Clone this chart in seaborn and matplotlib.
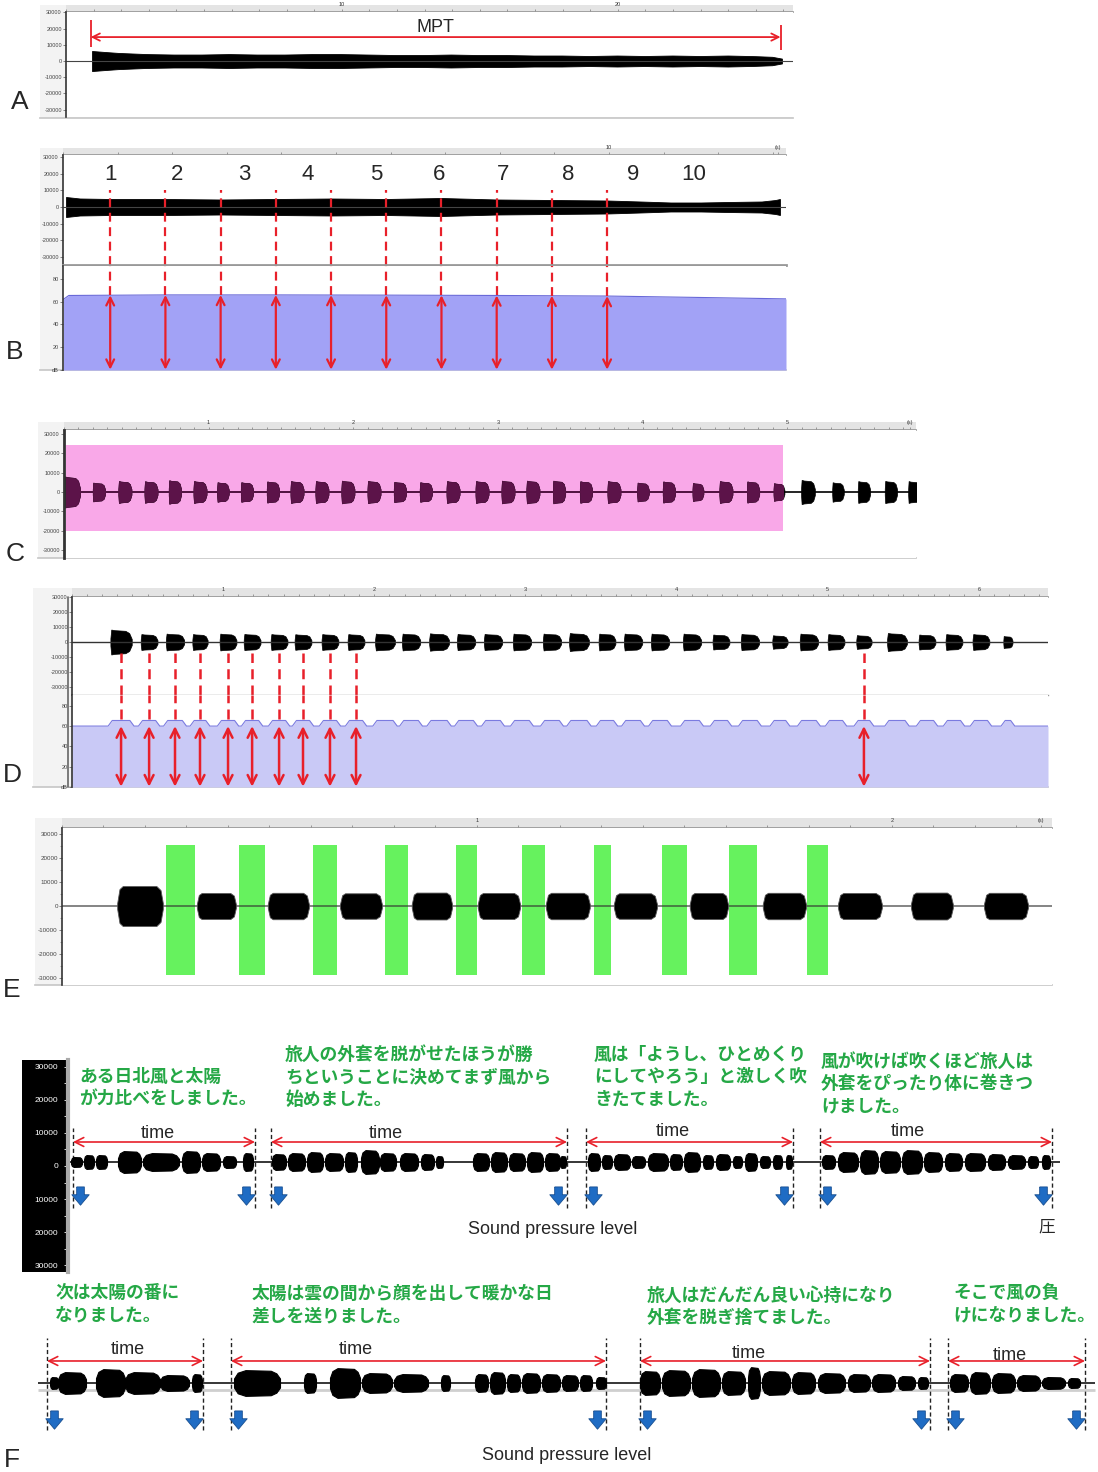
import numpy as np
import matplotlib
matplotlib.use("Agg")
import matplotlib.pyplot as plt
import seaborn as sns
from matplotlib.patches import Rectangle
from matplotlib.lines import Line2D

# ---------------- data ----------------

# A: sustained vowel, amplitude envelope (time in s)
a_time = [1.05, 1.5, 2, 3, 4, 5, 6, 7, 8, 9, 10, 11, 12, 13, 14, 15, 16, 17, 18, 19, 20,
          21, 22, 23, 24, 25, 25.6, 25.95]
a_env = [6200, 5600, 5000, 4300, 4000, 4000, 4300, 4000, 4000, 4300, 4300, 4000, 3700, 3700,
         4000, 3700, 3700, 3400, 3400, 3100, 3400, 3100, 3400, 3100, 3400, 3000, 2600, 1500]
a_mpt = [1.0, 25.9]

# B: sustained vowel + intensity (dB), measured once per second
b_time = [0.2, 0.45, 1, 2, 3, 4, 5, 6, 7, 8, 9, 10, 10.6, 11.15, 11.7, 12.2, 12.8, 13.05, 13.13]
b_env = [6000, 5100, 4800, 4800, 4500, 4800, 5100, 4800, 5400, 4500, 4200, 3900, 3300, 2700,
         2700, 3000, 3300, 4200, 4800]
b_db_time = [0.15, 0.25, 2, 4, 6, 8, 10, 12, 13.24]
b_db = [62, 65.5, 66, 66, 65.8, 65.5, 65, 63.5, 62.5]
b_marks = [1, 2, 3, 4, 5, 6, 7, 8, 9, 10]
b_label_time = [1.0, 2.21, 3.42, 4.58, 5.82, 6.96, 8.12, 9.29, 10.47, 11.56]
b_labels = ["1", "2", "3", "4", "5", "6", "7", "8", "9", "10"]

# C: syllable repetition, burst centres / durations (s) and amplitudes
c_time = [0.069, 0.255, 0.434, 0.614, 0.779, 0.952, 1.110, 1.276, 1.455, 1.621, 1.793, 1.972,
          2.152, 2.331, 2.510, 2.697, 2.897, 3.076, 3.248, 3.428, 3.614, 3.807, 4.007, 4.186,
          4.386, 4.579, 4.766, 4.945, 5.145, 5.352, 5.531, 5.717, 5.876]
c_width = [0.11, 0.085, 0.09, 0.09, 0.085, 0.09, 0.08, 0.085, 0.085, 0.09, 0.09, 0.09, 0.09,
           0.085, 0.085, 0.09, 0.09, 0.09, 0.09, 0.085, 0.085, 0.09, 0.08, 0.085, 0.075, 0.09,
           0.085, 0.075, 0.095, 0.08, 0.085, 0.085, 0.08]
c_amp = [8000, 4800, 5600, 5500, 6000, 5600, 5000, 5000, 5400, 5600, 5600, 5800, 5700, 5200,
         5000, 5600, 5600, 5800, 5800, 5800, 5500, 5600, 4800, 5400, 4600, 5600, 5400, 4500,
         6200, 5000, 5600, 5700, 5600]
c_sel_time = [0.03, 4.97]
c_sel_amp = [-20000, 24000]

# D: syllable repetition + intensity
d_time = [0.374, 0.558, 0.728, 0.892, 1.076, 1.234, 1.411, 1.568, 1.745, 1.916, 2.106, 2.277,
          2.461, 2.638, 2.815, 3.005, 3.202, 3.379, 3.563, 3.734, 3.911, 4.121, 4.311, 4.501,
          4.698, 4.888, 5.066, 5.249, 5.466, 5.663, 5.840, 6.017, 6.194]
d_width = [0.14, 0.11, 0.12, 0.10, 0.11, 0.11, 0.11, 0.11, 0.11, 0.11, 0.13, 0.12, 0.13, 0.12,
           0.12, 0.12, 0.12, 0.13, 0.11, 0.12, 0.12, 0.12, 0.11, 0.12, 0.10, 0.12, 0.11, 0.10,
           0.13, 0.11, 0.11, 0.11, 0.06]
d_amp = [8300, 5300, 5600, 5300, 5600, 5400, 5300, 5200, 5300, 5300, 5600, 5600, 5800, 5400,
         5400, 5600, 5600, 6000, 5600, 5600, 5600, 5600, 5000, 5400, 4500, 5600, 5300, 4600,
         6000, 5000, 5300, 5300, 4000]
d_marked = [0, 1, 2, 3, 4, 5, 6, 7, 8, 9, 27]
d_db_floor = 60.0
d_db_peak = 65.5

# E: syllables with pauses (green)
e_start = [0.133, 0.325, 0.496, 0.670, 0.843, 1.002, 1.166, 1.330, 1.513, 1.689, 1.870, 2.046, 2.222]
e_end = [0.243, 0.419, 0.595, 0.771, 0.940, 1.104, 1.272, 1.434, 1.605, 1.793, 1.976, 2.147, 2.328]
e_amp = [8300, 5400, 5500, 5300, 5600, 5400, 5500, 5300, 5400, 5500, 5400, 5600, 5500]
g_start = [0.251, 0.427, 0.605, 0.778, 0.949, 1.108, 1.282, 1.446, 1.607, 1.795]
g_end = [0.320, 0.489, 0.663, 0.834, 1.000, 1.164, 1.323, 1.506, 1.675, 1.846]
g_amp = [-28750, 25400]

# F: reading passage, sound clusters (start s, end s, amplitude) per phrase
f1_bursts = [
    [(0.71, 0.82, 1500), (0.84, 0.94, 2100), (0.96, 1.07, 2100), (1.18, 1.41, 3300),
     (1.43, 1.79, 2700), (1.82, 2.00, 3300), (2.02, 2.20, 2700), (2.23, 2.36, 1800),
     (2.43, 2.53, 2700)],
    [(2.72, 2.86, 2400), (2.88, 3.05, 2700), (3.07, 3.23, 3000), (3.25, 3.43, 2700),
     (3.45, 3.57, 3000), (3.61, 3.79, 3600), (3.80, 3.96, 2700), (4.00, 4.18, 2700),
     (4.21, 4.34, 2400), (4.36, 4.43, 1800), (4.73, 4.89, 2700), (4.91, 5.07, 3000),
     (5.09, 5.25, 2700), (5.27, 5.43, 3000), (5.45, 5.60, 2700), (5.60, 5.66, 1800)],
    [(5.88, 6.00, 2700), (6.02, 6.12, 2100), (6.14, 6.30, 2400), (6.32, 6.45, 1800),
     (6.48, 6.68, 2700), (6.70, 6.82, 2400), (6.84, 7.00, 3000), (7.03, 7.13, 2100),
     (7.16, 7.30, 2400), (7.33, 7.42, 1800), (7.45, 7.57, 2700), (7.60, 7.70, 1800),
     (7.73, 7.82, 2100), (7.86, 7.92, 2100)],
    [(8.22, 8.35, 2100), (8.38, 8.58, 3000), (8.60, 8.78, 3600), (8.80, 9.00, 3300),
     (9.02, 9.22, 3600), (9.24, 9.42, 3000), (9.45, 9.62, 2700), (9.65, 9.85, 2700),
     (9.88, 10.05, 2400), (10.08, 10.25, 2100), (10.28, 10.38, 1800), (10.42, 10.50, 2100)],
]
f2_bursts = [
    [(0.50, 0.58, 1800), (0.58, 0.86, 3300), (0.96, 1.25, 4200), (1.25, 1.60, 3300),
     (1.60, 1.89, 2400), (1.92, 2.02, 2700)],
    [(2.34, 2.80, 3900), (3.04, 3.16, 3000), (3.30, 3.60, 4500), (3.62, 3.92, 3000),
     (3.94, 4.28, 2700), (4.41, 4.50, 2400), (4.75, 4.88, 2700), (4.90, 5.05, 3300),
     (5.07, 5.20, 2700), (5.22, 5.40, 3000), (5.42, 5.60, 2700), (5.62, 5.78, 2400),
     (5.80, 5.92, 2400), (5.96, 6.06, 1800)],
    [(6.40, 6.60, 3600), (6.62, 6.90, 3900), (6.92, 7.20, 4200), (7.22, 7.45, 3600),
     (7.48, 7.60, 4800), (7.62, 7.90, 3600), (7.92, 8.15, 3300), (8.18, 8.45, 3000),
     (8.48, 8.70, 2700), (8.72, 8.95, 2700), (8.98, 9.15, 2100), (9.18, 9.28, 1800)],
    [(9.50, 9.68, 2700), (9.70, 9.90, 3300), (9.92, 10.15, 3000), (10.17, 10.40, 2400),
     (10.42, 10.65, 1800), (10.68, 10.80, 1500)],
]
f1_span = [(0.73, 2.55), (2.71, 5.67), (5.86, 7.93), (8.20, 10.52)]
f2_span = [(0.47, 2.03), (2.31, 6.06), (6.40, 9.30), (9.48, 10.85)]
f1_text = ["ある日北風と太陽\nが力比べをしました。",
           "旅人の外套を脱がせたほうが勝\nちということに決めてまず風から\n始めました。",
           "風は「ようし、ひとめくり\nにしてやろう」と激しく吹\nきたてました。",
           "風が吹けば吹くほど旅人は\n外套をぴったり体に巻きつ\nけました。"]
f2_text = ["次は太陽の番に\nなりました。",
           "太陽は雲の間から顔を出して暖かな日\n差しを送りました。",
           "旅人はだんだん良い心持になり\n外套を脱ぎ捨てました。",
           "そこで風の負\nけになりました。"]

amp_ticks = [30000, 20000, 10000, 0, -10000, -20000, -30000]
amp_labels = ["30000", "20000", "10000", "0", "-10000", "-20000", "-30000"]
db_ticks = [80, 60, 40, 20, 0]
db_labels = ["80", "60", "40", "20", "dB"]

# ---------------- figure ----------------

sns.set_theme(style="white")
plt.rcParams["font.family"] = ["Liberation Sans", "DejaVu Sans"]
JP = ["Noto Sans CJK JP", "DejaVu Sans"]
RED = "#e8202a"
GREEN_TXT = "#25a846"

W, H = 1098, 1472
fig = plt.figure(figsize=(W / 100, H / 100), dpi=100)


def px_axes(x0, y0, x1, y1, zorder=1):
    return fig.add_axes([x0 / W, 1 - y1 / H, (x1 - x0) / W, (y1 - y0) / H], zorder=zorder)


def px_text(x, y, s, **kw):
    fig.text(x / W, 1 - y / H, s, **kw)


def panel_bg(x0, y0, x1, y1):
    bg = px_axes(x0, y0, x1, y1, zorder=0)
    bg.set_facecolor("#f3f3f3")
    bg.set_xticks([])
    bg.set_yticks([])
    for s in bg.spines.values():
        s.set_visible(False)
    bg.spines["bottom"].set_visible(True)
    bg.spines["bottom"].set_color("#c8c8c8")


def ruler(x0, y0, x1, y1, xlim, major, labels, minor_step):
    r = px_axes(x0, y0, x1, y1, zorder=2)
    r.set_facecolor("#e4e4e4")
    r.set_xlim(xlim)
    r.set_ylim(0, 1)
    r.set_yticks([])
    r.set_xticks(major, labels)
    r.set_xticks(np.arange(0, xlim[1], minor_step), minor=True)
    r.tick_params(axis="x", which="both", bottom=True, direction="in", length=2.5,
                  width=0.5, color="#777", labelsize=4, labelcolor="#333", pad=-7)
    for s in r.spines.values():
        s.set_visible(False)
    r.spines["bottom"].set_visible(True)
    r.spines["bottom"].set_color("#999")
    return r


def wave_ax(x0, y0, x1, y1, xlim, ylim, ticks, labels, fs=4):
    ax = px_axes(x0, y0, x1, y1, zorder=2)
    ax.set_facecolor("white")
    ax.set_xlim(xlim)
    ax.set_ylim(ylim)
    ax.set_xticks([])
    ax.set_yticks(ticks, labels)
    ax.tick_params(axis="y", left=True, length=2, width=0.5, color="#555",
                   labelsize=fs, labelcolor="#444", pad=1)
    for s in ["top", "right", "bottom"]:
        ax.spines[s].set_visible(False)
    ax.spines["left"].set_color("#333")
    ax.spines["left"].set_linewidth(1.2)
    return ax


def burst(ax, c, w, a, shape_x, shape_y, **kw):
    xs = c + w * np.asarray(shape_x)
    ys = a * np.asarray(shape_y)
    return ax.fill_between(xs, -ys, ys, **kw)


D_SHAPE = ([-0.5, -0.46, -0.3, 0.2, 0.38, 0.5], [0.3, 1.0, 0.95, 0.9, 0.72, 0.25])
BOX_SHAPE = ([-0.5, -0.45, -0.38, 0.36, 0.45, 0.5], [0.15, 0.85, 1.0, 1.0, 0.8, 0.15])
F_SHAPE = ([-0.5, -0.42, -0.25, 0.3, 0.42, 0.5], [0.35, 0.8, 1.0, 0.95, 0.75, 0.35])


def red_arrow(ax, x0, y0, x1, y1, lw=1.6, ms=14):
    ax.annotate("", xy=(x1, y1), xytext=(x0, y0),
                arrowprops=dict(arrowstyle="<->", color=RED, lw=lw, mutation_scale=ms,
                                shrinkA=0, shrinkB=0))


DASH = (0, (4, 2.5))

# ---- A ----
A_XLIM = (0.11, 26.35)
panel_bg(40, 5, 793, 118)
ruler(66, 5, 793, 12, A_XLIM, [10, 20], ["10", "20"], 1)
ax = wave_ax(66, 12, 793, 117, A_XLIM, (-34600, 30300), amp_ticks, amp_labels)
ax.axhline(0, color="#444", lw=0.8)
ax.fill_between(a_time, -np.array(a_env), a_env, color="black", lw=0.6)
red_arrow(ax, a_mpt[0], 14800, a_mpt[1], 14800, lw=1.3, ms=13)
ax.vlines(a_mpt, [8650, 6800], [25300, 22250], color=RED, lw=1.3)
px_text(435, 27, "MPT", fontsize=13, ha="center", va="center")

# ---- B ----
B_XLIM = (0.145, 13.24)
panel_bg(40, 148, 786, 370)
ruler(63, 148, 786, 155, B_XLIM, [10, 13.1], ["10", "(s)"], 1)
bt = wave_ax(63, 155, 786, 265, B_XLIM, (-34800, 31200), amp_ticks, amp_labels)
bt.spines["bottom"].set_visible(True)
bt.spines["bottom"].set_color("#999")
bt.spines["bottom"].set_linewidth(2)
bt.axhline(0, color="#444", lw=0.8)
bt.fill_between(b_time, -np.array(b_env), b_env, color="black", lw=0.6)
bb = wave_ax(63, 266, 786, 370, B_XLIM, (0, 91.4), db_ticks, db_labels)
bb.fill_between(b_db_time, 0, b_db, color="#a2a2f6", lw=0)
bb.plot(b_db_time, b_db, color="#6868d8", lw=0.8)
for t in b_marks:
    level = np.interp(t, b_db_time, b_db)
    bt.vlines(t, -34800, 10200, color=RED, lw=1.6, linestyles=DASH)
    bb.vlines(t, level, 91.4, color=RED, lw=1.6, linestyles=DASH)
    red_arrow(bb, t, level, t, 0.3)
for t, s in zip(b_label_time, b_labels):
    bt.text(t, 19200, s, fontsize=16, ha="center", va="center")

# ---- C ----
C_XLIM = (0.014, 5.89)
panel_bg(38, 422, 916, 558)
ruler(64, 422, 916, 430, C_XLIM, [1, 2, 3, 4, 5, 5.85], ["1", "2", "3", "4", "5", "(s)"], 0.1)
ax = wave_ax(64, 430, 916, 558, C_XLIM, (-33850, 31800), amp_ticks, amp_labels)
ax.spines["left"].set_linewidth(2)
pink = Rectangle((c_sel_time[0], c_sel_amp[0]), c_sel_time[1] - c_sel_time[0],
                 c_sel_amp[1] - c_sel_amp[0], facecolor="#f9a8e8", edgecolor="none", zorder=1)
ax.add_patch(pink)
ax.axhline(0, color="black", lw=1.2, zorder=2)
base = ax.axhline(0, color="#5c1349", lw=1.2, zorder=3)
base.set_clip_path(pink)
for c, w, a in zip(c_time, c_width, c_amp):
    burst(ax, c, w, a, *D_SHAPE, color="black", lw=0.5, zorder=2)
    p = burst(ax, c, w, a, *D_SHAPE, color="#5c1349", lw=0.5, zorder=3)
    p.set_clip_path(pink)

# ---- D ----
D_XLIM = (0.052, 6.457)
panel_bg(33, 588, 1048, 787)
ruler(72, 588, 1048, 597, D_XLIM, [1, 2, 3, 4, 5, 6], ["1", "2", "3", "4", "5", "6"], 0.1)
dt = wave_ax(72, 597, 1048, 695, D_XLIM, (-35300, 30000), amp_ticks, amp_labels)
dt.spines["bottom"].set_visible(True)
dt.spines["bottom"].set_color("#999")
dt.spines["bottom"].set_linewidth(1)
dt.axhline(0, color="#333", lw=1)
for c, w, a in zip(d_time, d_width, d_amp):
    burst(dt, c, w, a, *D_SHAPE, color="black", lw=0.5)
db_ax = wave_ax(72, 695, 1048, 787, D_XLIM, (0, 90.6), db_ticks, db_labels)
xs, ys = [D_XLIM[0]], [d_db_floor]
for c, w in zip(d_time, d_width):
    xs += [c - w / 2 - 0.015, c - w / 2 + 0.012, c + w / 2 - 0.012, c + w / 2 + 0.015]
    ys += [d_db_floor, d_db_peak, d_db_peak, d_db_floor]
xs.append(D_XLIM[1])
ys.append(d_db_floor)
db_ax.fill_between(xs, 0, ys, color="#c9c9f6", lw=0)
db_ax.plot(xs, ys, color="#7b7be0", lw=0.8)
for i in d_marked:
    t = d_time[i]
    dt.vlines(t, -35300, -7000, color=RED, lw=1.8, linestyles=DASH)
    db_ax.vlines(t, d_db_peak + 1, 90.6, color=RED, lw=1.8, linestyles=DASH)
    red_arrow(db_ax, t, d_db_floor, t, 0.3, lw=1.8, ms=16)
fig.add_artist(Line2D([68 / W, 68 / W], [1 - 787 / H, 1 - 597 / H], color="#666", lw=1.2))

# ---- E ----
E_XLIM = (0.0, 2.386)
panel_bg(35, 818, 1052, 985)
ruler(62, 818, 1052, 828, E_XLIM, [1, 2, 2.36], ["1", "2", "(s)"], 0.1)
ax = wave_ax(62, 828, 1052, 985, E_XLIM, (-32900, 32500), amp_ticks, amp_labels, fs=4.5)
ax.set_yticks(np.arange(-30000, 30001, 5000), minor=True)
ax.tick_params(axis="y", which="minor", left=True, length=1.5, width=0.4, color="#666")
ax.bar(g_start, g_amp[1] - g_amp[0], width=np.array(g_end) - np.array(g_start),
       bottom=g_amp[0], align="edge", color="#66f25e", lw=0, zorder=2)
ax.axhline(0, color="#333", lw=1.2, alpha=0.7, zorder=3)
for s, e, a in zip(e_start, e_end, e_amp):
    burst(ax, (s + e) / 2, e - s, a, *BOX_SHAPE, facecolor="black", edgecolor="#555",
          lw=0.6, zorder=4)

# ---- F ----
strip = px_axes(22, 1060, 68, 1272, zorder=2)
strip.set_facecolor("black")
strip.set_xticks([])
strip.set_ylim(-32121, 32121)
strip.set_yticks(amp_ticks, [l.lstrip("-") for l in amp_labels])
strip.set_yticks(np.arange(-30000, 30001, 5000), minor=True)
strip.tick_params(axis="y", which="both", left=False, right=True, direction="in",
                  length=3, width=0.6, colors="white", labelleft=True, labelright=False,
                  labelsize=6, pad=-26)
for s in strip.spines.values():
    s.set_visible(False)
strip.spines["right"].set_visible(True)
strip.spines["right"].set_color("#aaaaaa")
strip.spines["right"].set_linewidth(3)

arrow_marker = [(-0.22, 0.55), (0.22, 0.55), (0.22, 0.1), (0.5, 0.1), (0.0, -0.5),
                (-0.5, 0.1), (-0.22, 0.1), (-0.22, 0.55)]


def f_row(box, baseline_px, bursts, spans, base_x, dash_y, arrow_y, blue_y):
    x0, y0, x1, y1 = box
    ax = px_axes(x0, y0, x1, y1, zorder=3)
    ax.set_xlim(0, 10.98)
    ax.set_ylim(-(y1 - baseline_px) * 303, (baseline_px - y0) * 303)
    ax.axis("off")
    ax.hlines(0, base_x[0], base_x[1], color="black", lw=1.1, zorder=2)
    for phrase in bursts:
        for s, e, a in phrase:
            burst(ax, (s + e) / 2, e - s, a, *F_SHAPE, color="black", lw=0.8, zorder=3)
    for s, e in spans:
        ax.vlines([s, e], dash_y[0], dash_y[1], color="#222", lw=1, linestyles=(0, (3, 2)))
        red_arrow(ax, s, arrow_y, e, arrow_y, lw=1.2, ms=16)
        ax.scatter([s + 0.07, e - 0.09], [blue_y, blue_y], marker=arrow_marker, s=190,
                   facecolor="#1f6cc4", edgecolor="#174e90", lw=0.6, zorder=4)
    return ax


f1 = f_row((0, 1040, 1098, 1250), 1162, f1_bursts, f1_span, (0.70, 10.60),
           (-13900, 10300), 6060, -10300)
f2 = f_row((0, 1280, 1098, 1472), 1383, f2_bursts, f2_span, (0.38, 10.95),
           (-14200, 13600), 6670, -11200)
f2.hlines(-2100, 0.38, 10.95, color="#cfcfcf", lw=2, zorder=1)

JP_KW = dict(family=JP, fontsize=12.8, weight="bold", color=GREEN_TXT,
             ha="left", va="top", linespacing=1.32)
for (x, y), s in zip([(79, 1068), (285, 1046), (594, 1046), (821, 1053)], f1_text):
    px_text(x, y, s, **JP_KW)
for (x, y), s in zip([(55, 1284), (252, 1285), (647, 1287), (953, 1284)], f2_text):
    px_text(x, y, s, **JP_KW)
for x, y in [(158, 1133), (386, 1133), (673, 1132), (908, 1132),
             (128, 1349), (356, 1349), (749, 1353), (1010, 1356)]:
    px_text(x, y, "time", fontsize=13, ha="center", va="center")
px_text(553, 1230, "Sound pressure level", fontsize=13, ha="center", va="center")
px_text(567, 1456, "Sound pressure level", fontsize=13, ha="center", va="center")
px_text(1047, 1227, "圧", family=JP, fontsize=12, ha="center", va="center")

for letter, x, y in [("A", 20, 102), ("B", 15, 352), ("C", 15, 554), ("D", 12, 775),
                     ("E", 12, 990), ("F", 12, 1460)]:
    px_text(x, y, letter, fontsize=19, ha="center", va="center")

fig.savefig("out.png", dpi=100)
